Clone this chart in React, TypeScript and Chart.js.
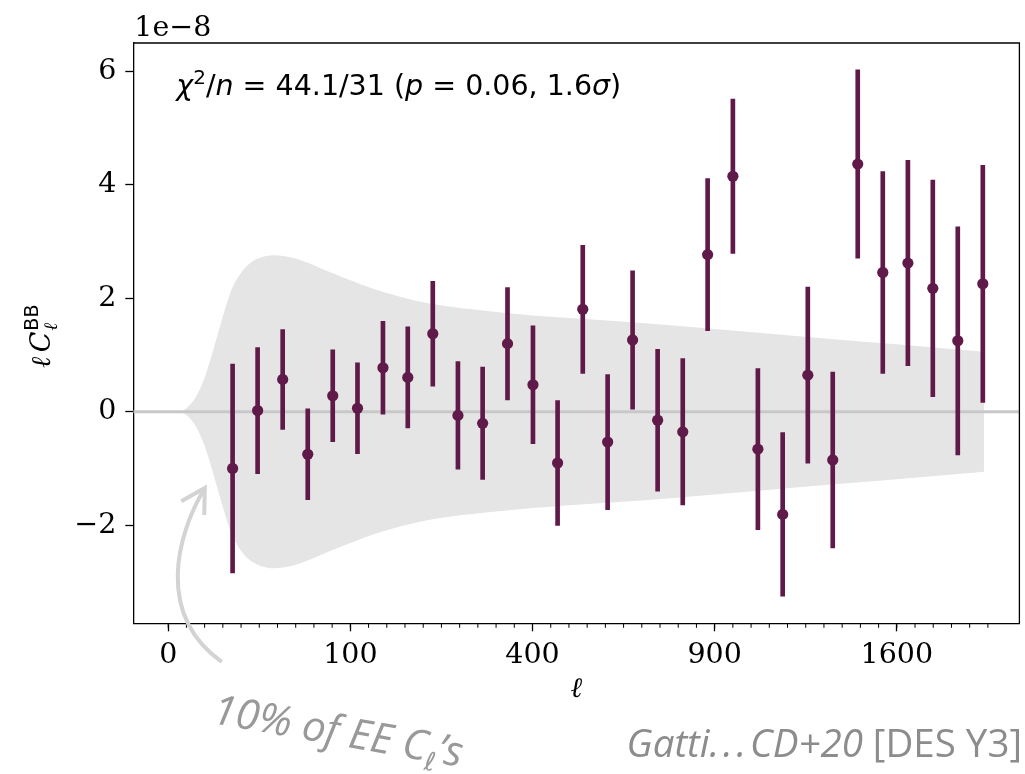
import React, { useEffect, useRef } from 'react';
import { Chart, registerables } from 'chart.js';

Chart.register(...registerables);

// Multipole bin centres (ℓ)
const ellCenters = [12.5, 24.1, 39.5, 58.7, 81.6, 108, 139, 173, 211, 253, 298, 347, 401, 457, 518, 582, 650, 722, 798, 877, 961, 1048, 1138, 1233, 1331, 1433, 1539, 1649, 1762, 1879, 2000];
// ℓ C_ℓ^BB in units of 1e-8
const clBB = [-1.0, 0.02, 0.57, -0.75, 0.28, 0.06, 0.775, 0.605, 1.375, -0.065, -0.205, 1.2, 0.475, -0.905, 1.805, -0.535, 1.265, -0.15, -0.355, 2.77, 4.15, -0.66, -1.81, 0.645, -0.85, 4.365, 2.455, 2.62, 2.175, 1.25, 2.255];
// 1σ errors, units of 1e-8
const clBBErr = [1.84, 1.11, 0.88, 0.8, 0.81, 0.8, 0.82, 0.89, 0.925, 0.95, 0.99, 0.99, 1.04, 1.1, 1.13, 1.19, 1.22, 1.25, 1.29, 1.34, 1.36, 1.42, 1.44, 1.55, 1.55, 1.66, 1.78, 1.81, 1.91, 2.01, 2.09];
// "10% of EE C_ℓ's" envelope (±), units of 1e-8
const bandEll = [0.09, 0.49, 1, 2.25, 4, 6.25, 9, 12.25, 16, 20.25, 25, 33.6, 49, 77.4, 132, 204, 324, 484, 666, 900, 1347, 1600, 2007];
const bandSigma = [0, 0.01, 0.06, 0.25, 0.6, 1.12, 1.68, 2.17, 2.45, 2.62, 2.71, 2.76, 2.7, 2.47, 2.14, 1.91, 1.76, 1.65, 1.57, 1.46, 1.275, 1.19, 1.057];
// Tick labels
const xTickEll = [0, 100, 400, 900, 1600];
const yTickValues = [-2, 0, 2, 4, 6];
const xMinorRoots = Array.from({ length: 46 }, (_, i) => i);

const PURPLE = '#601a4a';
const X_MIN = -1.916;
const X_MAX = 46.73;
const Y_MIN = -3.73;
const Y_MAX = 6.5;

type Run = { t: string; f: string; dy?: number; stay?: boolean };

function drawRuns(ctx: CanvasRenderingContext2D, x: number, y: number, runs: Run[]) {
  let cx = x;
  for (const r of runs) {
    ctx.font = r.f;
    ctx.fillText(r.t, cx, y + (r.dy || 0));
    if (!r.stay) cx += ctx.measureText(r.t).width;
  }
  return cx;
}
function measureRuns(ctx: CanvasRenderingContext2D, runs: Run[]) {
  let w = 0;
  for (const r of runs) {
    ctx.font = r.f;
    if (!r.stay) w += ctx.measureText(r.t).width;
  }
  return w;
}

const decor = {
  id: 'decor',
  afterDraw(chart: any) {
    const { ctx, chartArea: a, scales } = chart;
    const xs = scales.x;
    const ys = scales.y;
    ctx.save();
    // top & right spines
    ctx.strokeStyle = '#000';
    ctx.lineWidth = 1.3;
    ctx.beginPath();
    ctx.moveTo(a.left, a.top);
    ctx.lineTo(a.right, a.top);
    ctx.lineTo(a.right, a.bottom);
    ctx.stroke();
    // minor x ticks
    ctx.lineWidth = 1;
    ctx.beginPath();
    for (const r of xMinorRoots) {
      const px = xs.getPixelForValue(r);
      ctx.moveTo(px, a.bottom);
      ctx.lineTo(px, a.bottom + 4.5);
    }
    ctx.stroke();

    ctx.fillStyle = '#000';
    ctx.textBaseline = 'alphabetic';
    ctx.textAlign = 'left';
    // offset text
    ctx.font = '28.5px "DejaVu Serif"';
    ctx.fillText('1e\u22128', a.left + 1, a.top - 7);

    // chi^2 annotation
    const S = '28.5px "DejaVu Sans"';
    const I = 'italic 28.5px "DejaVu Sans"';
    drawRuns(ctx, a.left + 43, a.top + 51.5, [
      { t: 'χ', f: I },
      { t: '2', f: '20px "DejaVu Sans"', dy: -11 },
      { t: '/', f: S },
      { t: 'n', f: I },
      { t: ' = 44.1/31 (', f: S },
      { t: 'p', f: I },
      { t: ' = 0.06, 1.6', f: S },
      { t: 'σ', f: I },
      { t: ')', f: S },
    ]);

    // y-axis label
    ctx.save();
    ctx.translate(49.5, 368);
    ctx.rotate(-Math.PI / 2);
    let cx = drawRuns(ctx, 0, 0, [
      { t: 'ℓ', f: 'italic 27px "DejaVu Serif"' },
      { t: ' ', f: '14px "DejaVu Serif"' },
      { t: 'C', f: 'italic 27px "DejaVu Serif"' },
    ]);
    drawRuns(ctx, cx + 1, 0, [
      { t: 'BB', f: '19px "DejaVu Sans"', dy: -12, stay: true },
      { t: 'ℓ', f: 'italic 19px "DejaVu Serif"', dy: 7 },
    ]);
    ctx.restore();

    // arrow (anchored in data coordinates)
    const P = (s: number, v: number) => [xs.getPixelForValue(s), ys.getPixelForValue(v)];
    const p0 = P(2.94, -4.41);
    const c1 = P(-0.7, -3.58);
    const c2 = P(0.45, -2.18);
    const p1 = P(2.01, -1.345);
    ctx.strokeStyle = '#d3d3d3';
    ctx.lineWidth = 4;
    ctx.lineCap = 'butt';
    ctx.beginPath();
    ctx.moveTo(p0[0], p0[1]);
    ctx.bezierCurveTo(c1[0], c1[1], c2[0], c2[1], p1[0], p1[1]);
    ctx.stroke();
    const ang = Math.atan2(p1[1] - c2[1], p1[0] - c2[0]);
    const L = 27;
    ctx.beginPath();
    ctx.moveTo(p1[0] + L * Math.cos(ang + Math.PI - 0.52), p1[1] + L * Math.sin(ang + Math.PI - 0.52));
    ctx.lineTo(p1[0], p1[1]);
    ctx.lineTo(p1[0] + L * Math.cos(ang + Math.PI + 0.52), p1[1] + L * Math.sin(ang + Math.PI + 0.52));
    ctx.stroke();

    // "10% of EE C_ℓ's"
    ctx.fillStyle = '#999999';
    ctx.save();
    ctx.translate(211, 723);
    ctx.rotate((10 * Math.PI) / 180);
    drawRuns(ctx, 0, 0, [
      { t: '10% of EE C', f: 'italic 42px "Open Sans"' },
      { t: 'ℓ', f: 'italic 26px "DejaVu Sans"', dy: 9 },
      { t: '\u2019s', f: 'italic 42px "Open Sans"' },
    ]);
    ctx.restore();

    // citation
    ctx.fillStyle = '#8c8c8c';
    const cite: Run[] = [
      { t: 'Gatti.\u200A.\u200A.\u200ACD+20', f: 'italic 38.5px "Open Sans"' },
      { t: ' [DES Y3]', f: '38.5px "Open Sans"' },
    ];
    const w = measureRuns(ctx, cite);
    drawRuns(ctx, 1022 - w, 756.5, cite);
    ctx.restore();
  },
};

export default function App() {
  const ref = useRef<HTMLCanvasElement | null>(null);
  useEffect(() => {
    if (!ref.current) return;
    const bandUpper = bandEll.map((l, i) => ({ x: Math.sqrt(l), y: bandSigma[i] }));
    const bandLower = bandEll.map((l, i) => ({ x: Math.sqrt(l), y: -bandSigma[i] }));
    const errBars = ellCenters.map((l, i) => ({ x: Math.sqrt(l), y: [clBB[i] - clBBErr[i], clBB[i] + clBBErr[i]] }));
    const pts = ellCenters.map((l, i) => ({ x: Math.sqrt(l), y: clBB[i] }));
    const chart = new Chart(ref.current, {
      type: 'line',
      data: {
        datasets: [
          {
            type: 'line',
            data: bandUpper,
            fill: '+1',
            backgroundColor: '#e5e5e5',
            borderWidth: 0,
            borderColor: 'rgba(0,0,0,0)',
            pointRadius: 0,
            cubicInterpolationMode: 'monotone',
            order: 10,
          } as any,
          {
            type: 'line',
            data: bandLower,
            fill: false,
            borderWidth: 0,
            borderColor: 'rgba(0,0,0,0)',
            pointRadius: 0,
            cubicInterpolationMode: 'monotone',
            order: 10,
          } as any,
          {
            type: 'line',
            data: [
              { x: X_MIN, y: 0 },
              { x: X_MAX, y: 0 },
            ],
            borderColor: '#c8c8c8',
            borderWidth: 3,
            pointRadius: 0,
            fill: false,
            order: 8,
          } as any,
          {
            type: 'bar',
            data: errBars,
            backgroundColor: PURPLE,
            borderWidth: 0,
            barThickness: 4,
            grouped: false,
            order: 3,
          } as any,
          {
            type: 'line',
            data: pts,
            showLine: false,
            pointRadius: 5.6,
            pointHoverRadius: 5.6,
            pointBackgroundColor: PURPLE,
            pointBorderWidth: 0,
            order: 1,
          } as any,
        ],
      },
      options: {
        responsive: false,
        animation: false,
        events: [],
        layout: { padding: { top: 43, right: 3, left: 0, bottom: 0 } },
        plugins: { legend: { display: false }, tooltip: { enabled: false } },
        scales: {
          x: {
            type: 'linear',
            min: X_MIN,
            max: X_MAX,
            offset: false,
            afterBuildTicks: (s: any) => {
              s.ticks = xTickEll.map((l) => ({ value: Math.sqrt(l) }));
            },
            afterFit: (s: any) => {
              s.height = 774 - 623.3;
            },
            grid: { drawOnChartArea: false, tickLength: 8, tickColor: '#000', tickWidth: 1.3, offset: false },
            border: { color: '#000', width: 1.3 },
            ticks: {
              autoSkip: false,
              maxRotation: 0,
              padding: 7,
              color: '#000',
              font: { family: 'DejaVu Serif', size: 28.5 },
              callback: (v: any) => String(Math.round(v * v)),
            },
            title: {
              display: true,
              text: 'ℓ',
              color: '#000',
              font: { family: 'DejaVu Serif', style: 'italic', size: 28 },
              padding: { top: 0, bottom: 67 },
            },
          },
          y: {
            type: 'linear',
            min: Y_MIN,
            max: Y_MAX,
            afterBuildTicks: (s: any) => {
              s.ticks = yTickValues.map((v) => ({ value: v }));
            },
            afterFit: (s: any) => {
              s.width = 133.3;
            },
            grid: { drawOnChartArea: false, tickLength: 8, tickColor: '#000', tickWidth: 1.3 },
            border: { color: '#000', width: 1.3 },
            ticks: {
              padding: 9,
              color: '#000',
              font: { family: 'DejaVu Serif', size: 28.5 },
              callback: (v: any) => (v < 0 ? '\u2212' + Math.abs(v) : String(v)),
            },
          },
        },
      },
      plugins: [decor],
    } as any);
    return () => chart.destroy();
  }, []);
  return (
    <div style={{ position: 'absolute', left: 0, top: 0, width: 1025, height: 774, background: '#fff' }}>
      <canvas ref={ref} width={1025} height={774} style={{ display: 'block' }} />
    </div>
  );
}
